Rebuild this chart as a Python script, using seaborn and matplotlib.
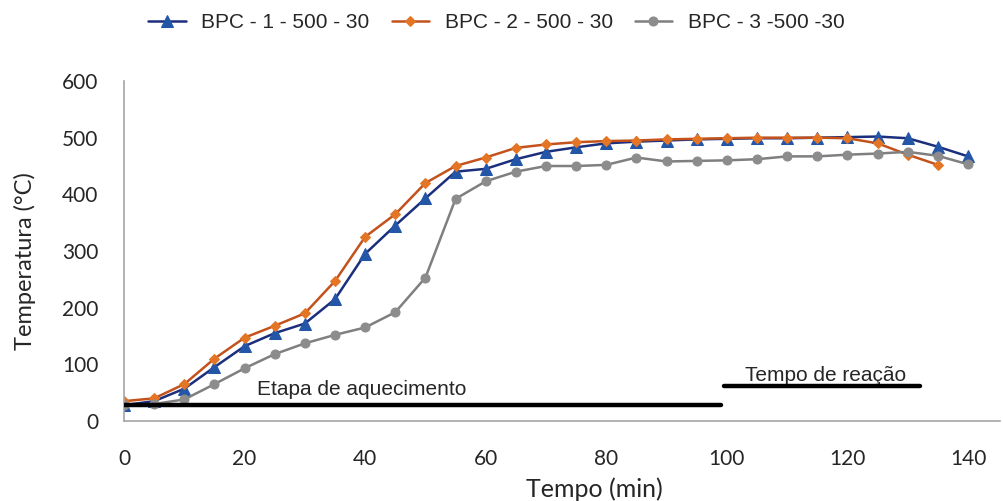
import matplotlib
matplotlib.use("Agg")
import matplotlib.pyplot as plt
import seaborn as sns
import pandas as pd
import numpy as np

# tempo (min) e temperatura (°C)
tempo = list(range(0, 145, 5))
bpc1 = [28, 35, 57, 95, 132, 155, 172, 215, 295, 345, 393, 440, 445, 462, 475,
        483, 490, 493, 495, 497, 498, 499, 499, 500, 501, 502, 499, 484, 467]
bpc2 = [35, 40, 65, 110, 147, 168, 190, 247, 325, 365, 420, 450, 465, 482, 488,
        492, 494, 495, 497, 498, 499, 500, 500, 500, 499, 490, 470, 452]
bpc3 = [28, 30, 38, 65, 93, 118, 137, 152, 165, 192, 253, 392, 423, 440, 450,
        450, 452, 465, 458, 459, 460, 462, 467, 467, 470, 472, 475, 468, 453]

labels = ["BPC - 1 - 500 - 30", "BPC - 2 - 500 - 30", "BPC - 3 -500 -30"]

# faixas das etapas (início, fim, nível)
etapa_aquec = (0, 99, 28)
etapa_reacao = (99.5, 132, 61)

sns.set_style("white")
plt.rcParams['font.family'] = ['Lato', 'DejaVu Sans']
arial = ["Liberation Sans", "DejaVu Sans"]

fig = plt.figure(figsize=(10.04, 5.01), dpi=100)
ax = fig.add_axes([0.1235, 0.1597, 0.8725, 0.6786])

series = [
    (bpc1, labels[0], "#1b2f7d", "#2456a8", "^", 8.5),
    (bpc2, labels[1], "#c4521c", "#e37525", "D", 5),
    (bpc3, labels[2], "#7f7f7f", "#8c8c8c", "o", 6.5),
]
for vals, lab, lc, mc, mk, ms in series:
    df = pd.DataFrame({"tempo": tempo[:len(vals)], "temp": vals})
    sns.lineplot(data=df, x="tempo", y="temp", ax=ax, color=lc, lw=1.8,
                 marker=mk, markersize=ms, markerfacecolor=mc,
                 markeredgecolor=mc, label=lab)

# linhas das etapas
ax.plot([etapa_aquec[0], etapa_aquec[1]], [etapa_aquec[2]] * 2, color="black",
        lw=3.2, solid_capstyle="round", zorder=5)
ax.plot([etapa_reacao[0], etapa_reacao[1]], [etapa_reacao[2]] * 2, color="black",
        lw=3.2, solid_capstyle="round", zorder=5)
ax.text(39.5, 55, "Etapa de aquecimento", ha="center", va="center",
        fontsize=15, family=arial)
ax.text(116.3, 81, "Tempo de reação", ha="center", va="center",
        fontsize=15, family=arial)

ax.set_xlim(0, 145.3)
ax.set_ylim(0, 600)
ax.set_xticks(np.arange(0, 141, 20))
ax.set_yticks(np.arange(0, 601, 100))
ax.tick_params(axis="both", direction="inout", length=13, width=1,
               color="#a6a6a6", labelsize=15)
ax.tick_params(axis="x", pad=14)
ax.tick_params(axis="y", pad=12)
for s in ["top", "right"]:
    ax.spines[s].set_visible(False)
for s in ["left", "bottom"]:
    ax.spines[s].set_color("#a6a6a6")
    ax.spines[s].set_linewidth(1.2)

ax.set_xlabel("Tempo (min)", fontsize=18)
ax.set_ylabel("Temperatura (°C)", fontsize=17)
ax.xaxis.set_label_coords(0.5365, -0.165)
ax.yaxis.set_label_coords(-0.1, 0.47)

handles, labs = ax.get_legend_handles_labels()
ax.legend_.remove()
fig.legend(handles, labs, loc="center", bbox_to_anchor=(0.4945, 0.955), ncol=3,
           frameon=False, handlelength=1.8, handletextpad=0.75,
           columnspacing=1.05, prop={"family": arial, "size": 15})

fig.savefig("out.png", dpi=100)
